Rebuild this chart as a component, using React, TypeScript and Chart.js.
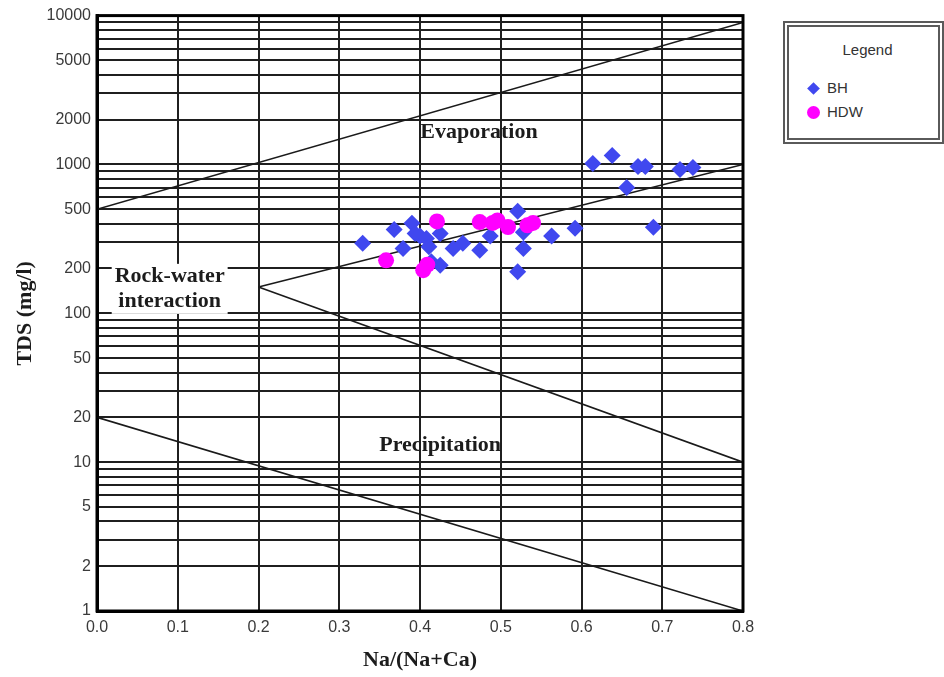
import React, { useEffect, useRef } from "react";
import { Chart, registerables } from "chart.js";

Chart.register(...registerables);

// ---- axis ticks ----
const xTickValues = [0, 0.1, 0.2, 0.3, 0.4, 0.5, 0.6, 0.7, 0.8];
const yLabelledTicks = [1, 2, 5, 10, 20, 50, 100, 200, 500, 1000, 2000, 5000, 10000];
const yGridDecades = [1, 10, 100, 1000];
const yGridMultipliers = [1, 2, 3, 4, 5, 6, 7, 8, 9];
const yTopTick = 10000;

// ---- BH (boreholes) ----
const bhRatio = [0.329, 0.368, 0.379, 0.390, 0.394, 0.400, 0.408, 0.425, 0.411, 0.414, 0.425, 0.441, 0.453, 0.474, 0.487, 0.521, 0.528, 0.528, 0.521, 0.563, 0.592, 0.614, 0.638, 0.670, 0.679, 0.722, 0.738, 0.656, 0.689];
const bhTDS = [295, 366, 273, 402, 344, 330, 318, 344, 280, 222, 210, 273, 295, 265, 330, 484, 350, 273, 190, 330, 372, 1015, 1148, 970, 970, 925, 955, 701, 378];

// ---- HDW (hand dug wells) ----
const hdwRatio = [0.358, 0.404, 0.409, 0.421, 0.474, 0.490, 0.496, 0.509, 0.533, 0.540];
const hdwTDS = [227, 195, 212, 414, 410, 405, 420, 380, 390, 405];

// ---- Gibbs boundary lines ----
const evaporationBoundaryX = [0, 0.8];
const evaporationBoundaryY = [500, 9000];
const rockUpperBoundaryX = [0.2, 0.8];
const rockUpperBoundaryY = [150, 1000];
const rockLowerBoundaryX = [0.2, 0.8];
const rockLowerBoundaryY = [150, 10];
const precipitationBoundaryX = [0, 0.8];
const precipitationBoundaryY = [20, 1];

// ---- region labels (anchored in data coordinates) ----
const regionLabels = [
  { text: "Evaporation", x: 0.473, y: 1640, bg: false },
  { text: "Rock-water\ninteraction", x: 0.09, y: 146, bg: true },
  { text: "Precipitation", x: 0.425, y: 13, bg: false },
];

const toPoints = (xs: number[], ys: number[]) => xs.map((x, i) => ({ x, y: ys[i] }));

const tickFont = { family: '"Liberation Sans", Arial, sans-serif', size: 16 };
const serifBold = { family: '"Liberation Serif", "Times New Roman", serif', size: 22, weight: "bold" as const };

const gibbsPlugin = {
  id: "gibbsDecor",
  beforeDatasetsDraw(chart: any) {
    const { ctx, scales } = chart;
    const xs = scales.x;
    const ys = scales.y;
    ctx.save();
    ctx.font = `bold ${serifBold.size}px ${serifBold.family}`;
    ctx.textAlign = "center";
    ctx.textBaseline = "middle";
    const lh = 25;
    for (const r of regionLabels) {
      const px = xs.getPixelForValue(r.x);
      const py = ys.getPixelForValue(r.y);
      const lines = r.text.split("\n");
      if (r.bg) {
        let w = 0;
        for (const l of lines) w = Math.max(w, ctx.measureText(l).width);
        const h = lines.length * lh;
        ctx.fillStyle = "#ffffff";
        ctx.fillRect(px - w / 2 - 3, py - h / 2, w + 6, h);
      }
      ctx.fillStyle = "#1c1c1c";
      lines.forEach((l: string, i: number) => {
        ctx.fillText(l, px, py + (i - (lines.length - 1) / 2) * lh);
      });
    }
    ctx.restore();
  },
  afterDraw(chart: any) {
    const { ctx, chartArea } = chart;
    ctx.save();
    ctx.strokeStyle = "#000";
    ctx.lineWidth = 3;
    ctx.strokeRect(chartArea.left, chartArea.top, chartArea.right - chartArea.left, chartArea.bottom - chartArea.top);
    ctx.restore();
  },
};

export default function App() {
  const canvasRef = useRef<HTMLCanvasElement | null>(null);

  useEffect(() => {
    if (!canvasRef.current) return;
    const yGridValues: number[] = [];
    for (const d of yGridDecades) for (const m of yGridMultipliers) yGridValues.push(d * m);
    yGridValues.push(yTopTick);

    const lineStyle = {
      showLine: true,
      borderColor: "#1a1a1a",
      borderWidth: 1.6,
      pointRadius: 0,
      pointHoverRadius: 0,
      fill: false,
    };

    const chart = new Chart(canvasRef.current, {
      type: "scatter",
      data: {
        datasets: [
          {
            label: "HDW",
            data: toPoints(hdwRatio, hdwTDS),
            pointStyle: "circle",
            pointRadius: 8,
            backgroundColor: "#ff00ff",
            borderColor: "#ff00ff",
            borderWidth: 0,
          },
          {
            label: "BH",
            data: toPoints(bhRatio, bhTDS),
            pointStyle: "rectRot",
            pointRadius: 8.5,
            backgroundColor: "#4048ef",
            borderColor: "#4048ef",
            borderWidth: 0,
          },
          { label: "evap", data: toPoints(evaporationBoundaryX, evaporationBoundaryY), ...lineStyle },
          { label: "rockUpper", data: toPoints(rockUpperBoundaryX, rockUpperBoundaryY), ...lineStyle },
          { label: "rockLower", data: toPoints(rockLowerBoundaryX, rockLowerBoundaryY), ...lineStyle },
          { label: "precip", data: toPoints(precipitationBoundaryX, precipitationBoundaryY), ...lineStyle },
        ] as any,
      },
      options: {
        animation: false,
        responsive: false,
        events: [],
        layout: { padding: { left: 0, right: 201, top: 15, bottom: 0 } },
        plugins: {
          legend: { display: false },
          tooltip: { enabled: false },
        },
        scales: {
          x: {
            type: "linear",
            min: 0,
            max: 0.8,
            afterBuildTicks: (s: any) => {
              s.ticks = xTickValues.map((v) => ({ value: v }));
            },
            afterFit: (s: any) => {
              s.height = 66;
            },
            ticks: {
              autoSkip: false,
              maxRotation: 0,
              padding: 7,
              color: "#3a3a3a",
              font: tickFont,
              callback: (v: any) => Number(v).toFixed(1),
            },
            grid: { color: "#1f1f1f", lineWidth: 2, drawTicks: false },
            border: { display: true, color: "#000", width: 3 },
            title: {
              display: true,
              text: "Na/(Na+Ca)",
              color: "#1c1c1c",
              font: serifBold,
              padding: { top: 0, bottom: 3 },
            },
          },
          y: {
            type: "logarithmic",
            min: 1,
            max: 10000,
            afterBuildTicks: (s: any) => {
              s.ticks = yGridValues.map((v) => ({ value: v }));
            },
            afterFit: (s: any) => {
              s.width = 97;
            },
            ticks: {
              autoSkip: false,
              padding: 6,
              color: "#3a3a3a",
              font: tickFont,
              callback: (v: any) => (yLabelledTicks.includes(Number(v)) ? String(v) : ""),
            },
            grid: { color: "#1f1f1f", lineWidth: 2, drawTicks: false },
            border: { display: true, color: "#000", width: 3 },
            title: {
              display: true,
              text: "TDS (mg/l)",
              color: "#1c1c1c",
              font: serifBold,
              padding: { top: 12, bottom: 0 },
            },
          },
        },
      } as any,
      plugins: [gibbsPlugin],
    });
    return () => chart.destroy();
  }, []);

  return (
    <div style={{ position: "absolute", left: 0, top: 0, width: 944, height: 677, background: "#fff" }}>
      <canvas ref={canvasRef} width={944} height={677} style={{ display: "block", width: 944, height: 677 }} />
      <div
        style={{
          position: "absolute",
          left: 783,
          top: 21,
          width: 149,
          height: 111,
          border: "6px double #5a5a5a",
          background: "#fff",
          fontFamily: '"Liberation Sans", Arial, sans-serif',
          fontSize: 15,
          color: "#333",
        }}
      >
        <div style={{ position: "absolute", left: 0, width: "100%", top: 14, textAlign: "center", lineHeight: "18px" }}>
          <span style={{ marginLeft: 8 }}>Legend</span>
        </div>
        <div style={{ position: "absolute", left: 18, top: 55, width: 13, height: 13, display: "flex", alignItems: "center", justifyContent: "center" }}>
          <div style={{ width: 9, height: 9, background: "#4048ef", transform: "rotate(45deg)" }} />
        </div>
        <div style={{ position: "absolute", left: 38, top: 52, lineHeight: "18px" }}>BH</div>
        <div style={{ position: "absolute", left: 18, top: 79, width: 13, height: 13, borderRadius: "50%", background: "#ff00ff" }} />
        <div style={{ position: "absolute", left: 38, top: 76, lineHeight: "18px" }}>HDW</div>
      </div>
    </div>
  );
}
